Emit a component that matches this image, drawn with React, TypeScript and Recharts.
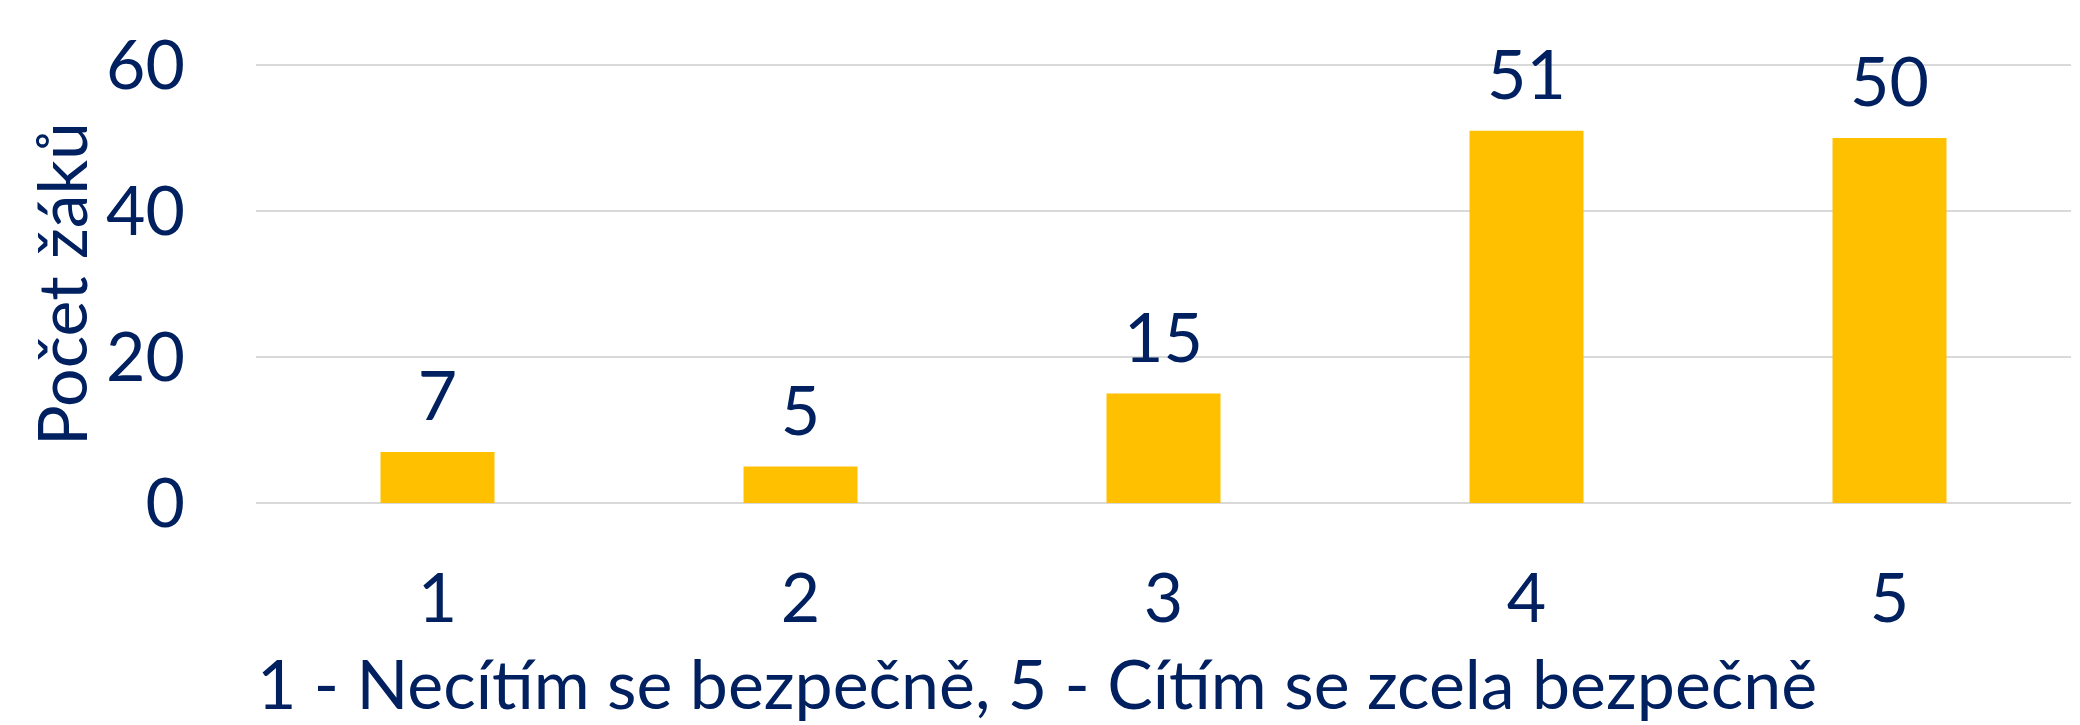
import React from "react";
import { BarChart, Bar, XAxis, YAxis, CartesianGrid, LabelList, Label } from "recharts";

const categories = ["1", "2", "3", "4", "5"];
const counts = [7, 5, 15, 51, 50];
const yTicks = [0, 20, 40, 60];
const yTitle = "Počet žáků";
const xTitle = "1 - Necítím se bezpečně, 5 - Cítím se zcela bezpečně";

const data = categories.map((c, i) => ({ name: c, value: counts[i] }));

const NAVY = "#002060";
const FONT = "Lato, 'Open Sans', sans-serif";
const FS = 68;

export default function App() {
  return (
    <div style={{ position: "absolute", left: 0, top: 0, width: 2080, height: 725, background: "#fff" }}>
      <BarChart
        width={2080}
        height={725}
        data={data}
        margin={{ top: 65, right: 9, bottom: 0, left: 0 }}
        barCategoryGap="34.3%"
        style={{ fontFamily: FONT }}
      >
        <CartesianGrid vertical={false} stroke="#D9D9D9" strokeWidth={2} />
        <XAxis
          dataKey="name"
          axisLine={false}
          tickLine={false}
          tickSize={6}
          tickMargin={65}
          height={222}
          tick={{ fill: NAVY, fontSize: FS, fontFamily: FONT }}
        >
          <Label
            content={() => (
              <text
                x={1037}
                y={709}
                textAnchor="middle"
                fill={NAVY}
                fontSize={FS}
                fontFamily={FONT}
              >
                {xTitle}
              </text>
            )}
          />
        </XAxis>
        <YAxis
          domain={[0, 60]}
          ticks={yTicks}
          axisLine={false}
          tickLine={false}
          tickSize={6}
          tickMargin={65}
          width={256}
          tick={{ fill: NAVY, fontSize: FS, fontFamily: FONT }}
        >
          <Label
            content={(props: any) => {
              const vb = props.viewBox || { x: 0, y: 65, width: 256, height: 438 };
              const cx = 60;
              const cy = vb.y + vb.height / 2;
              return (
                <text
                  x={cx}
                  y={cy}
                  transform={`rotate(-90, ${cx}, ${cy})`}
                  textAnchor="middle"
                  dominantBaseline="central"
                  fill={NAVY}
                  fontSize={FS}
                  fontFamily={FONT}
                >
                  {yTitle}
                </text>
              );
            }}
          />
        </YAxis>
        <Bar dataKey="value" fill="#FFC000" isAnimationActive={false}>
          <LabelList
            dataKey="value"
            position="top"
            offset={32}
            fill={NAVY}
            fontSize={FS}
            fontFamily={FONT}
          />
        </Bar>
      </BarChart>
    </div>
  );
}
